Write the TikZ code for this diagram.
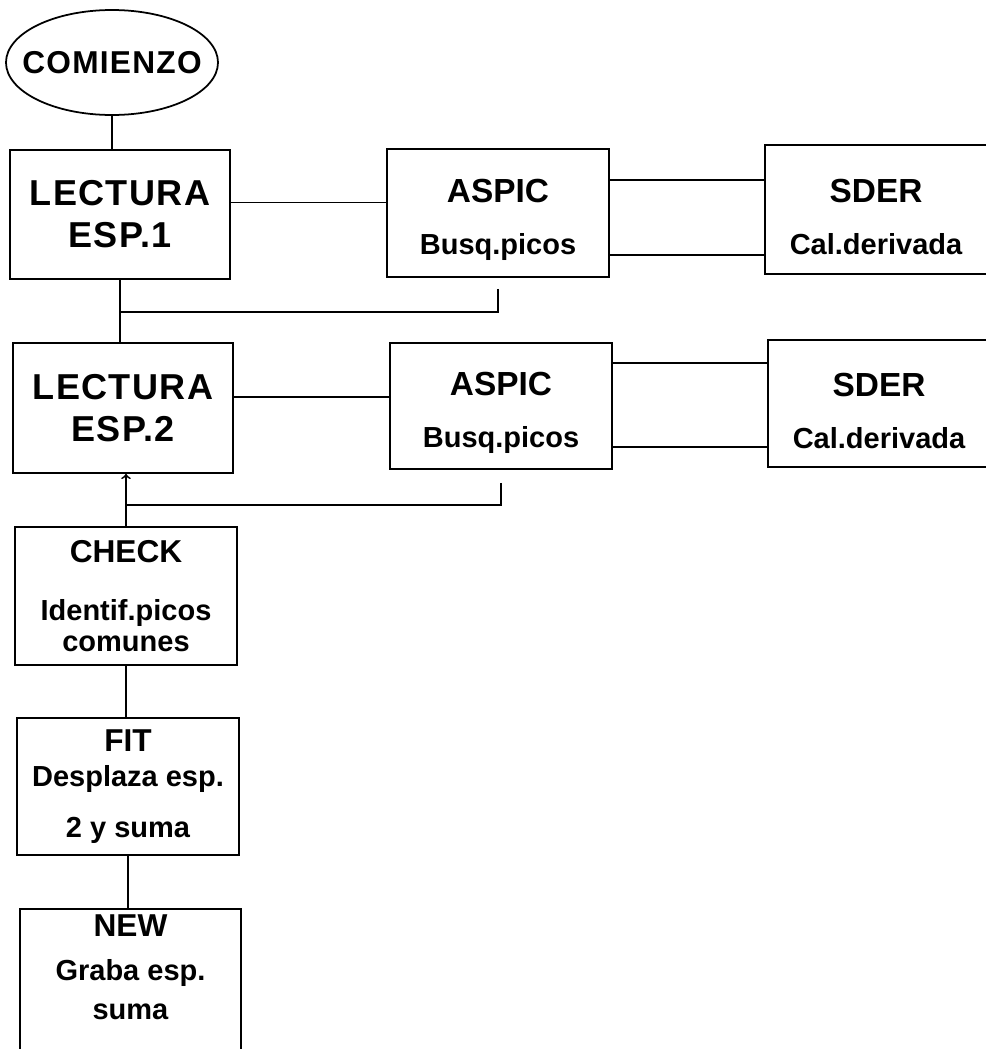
\documentclass[tikz,border=0pt]{standalone}
\usepackage{fontspec}
\setmainfont{Liberation Sans}
\usepackage{tikz}
\usetikzlibrary{shapes.geometric, arrows, positioning, calc}

\newcommand{\subtxt}{\fontsize{16.5}{17}\selectfont}

\begin{document}
\begin{tikzpicture}[
            startnode/.style={ellipse, draw, line width=1pt, minimum width=4.24cm, minimum height=2.1cm, inner sep=0pt, font=\bfseries\fontsize{18}{20}\selectfont\addfontfeature{LetterSpace=4}},
            readbox/.style={rectangle, draw, line width=1pt, minimum width=4.4cm, minimum height=2.58cm, align=center, font=\bfseries\fontsize{20.5}{24}\selectfont\addfontfeature{LetterSpace=4}},
            progbox/.style={rectangle, draw, line width=1pt, minimum width=4.44cm, minimum height=2.56cm, align=center, font=\bfseries\fontsize{19}{19}\selectfont},
            stepbox/.style={rectangle, draw, line width=1pt, minimum width=4.44cm, align=center, font=\bfseries\fontsize{18}{18}\selectfont},
            link/.style={line width=1pt},
            arrow/.style={->, line width=1pt}
        ]

            \useasboundingbox (0,0) rectangle (19.72,-20.98);

% Start
            \node[startnode] (start) at (2.24,-1.25) {\makebox[2cm][c]{COMIENZO}};

% First spectrum
            \node[readbox] (lect1) at (2.40,-4.29) {LECTURA\\ESP.1};
            \node[progbox] (aspic1) at (9.96,-4.26) {\rule{0pt}{21.5pt}ASPIC\\[10.5pt]\subtxt Busq.picos};
            \node[progbox, minimum height=2.58cm] (sder1) at (17.52,-4.19) {\rule{0pt}{21.5pt}SDER\\[10.5pt]\subtxt Cal.derivada};

% Second spectrum
            \node[readbox, minimum height=2.6cm] (lect2) at (2.46,-8.16) {LECTURA\\ESP.2};
            \node[progbox, minimum height=2.52cm] (aspic2) at (10.02,-8.12) {\rule{0pt}{21.5pt}ASPIC\\[10.5pt]\subtxt Busq.picos};
            \node[progbox, minimum height=2.54cm] (sder2) at (17.58,-8.07) {\rule{0pt}{21.5pt}SDER\\[10.5pt]\subtxt Cal.derivada};

% Processing steps
            \node[stepbox, minimum height=2.76cm] (check) at (2.52,-11.92) {CHECK\\[15pt]\subtxt Identif.picos\\\subtxt comunes};
            \node[stepbox, minimum height=2.74cm] (fit) at (2.56,-15.73) {FIT\\[2pt]\subtxt Desplaza esp.\\[11pt]\subtxt 2 y suma};
            \node[stepbox, anchor=north, minimum width=4.42cm, text depth=80pt] (new) at (2.61,-18.16) {NEW\\[7pt]\subtxt Graba esp.\\[4.5pt]\subtxt suma};

            \coordinate (tap1) at ([yshift=-0.22cm]aspic1.south);
            \coordinate (tap2) at ([yshift=-0.26cm]aspic2.south);

% Flow
            \draw[link] (start.south) -- (start.south |- lect1.north);
            \draw[link] ([yshift=0.24cm]lect1.east) -- ([yshift=0.24cm]lect1.east -| aspic1.west);
            \draw[link] ([yshift=0.66cm]aspic1.east) -- ([yshift=0.66cm]aspic1.east -| sder1.west);
            \draw[link] ([yshift=-0.84cm]aspic1.east) -- ([yshift=-0.84cm]aspic1.east -| sder1.west);
            \draw[link] (tap1) -- ++(0,-0.46) -| (lect1.south);
            \draw[link] (lect1.south) -- (lect1.south |- lect2.north);

            \draw[link] ([yshift=0.22cm]lect2.east) -- ([yshift=0.22cm]lect2.east -| aspic2.west);
            \draw[link] ([yshift=0.86cm]aspic2.east) -- ([yshift=0.86cm]aspic2.east -| sder2.west);
            \draw[link] ([yshift=-0.82cm]aspic2.east) -- ([yshift=-0.82cm]aspic2.east -| sder2.west);
            \draw[link] (tap2) -- ++(0,-0.44) -| (check.north);
            \draw[arrow] (check.north) -- (check.north |- lect2.south);

            \draw[link] (check.south) -- (check.south |- fit.north);
            \draw[link] (fit.south) -- (fit.south |- new.north);

        \end{tikzpicture}
\end{document}
